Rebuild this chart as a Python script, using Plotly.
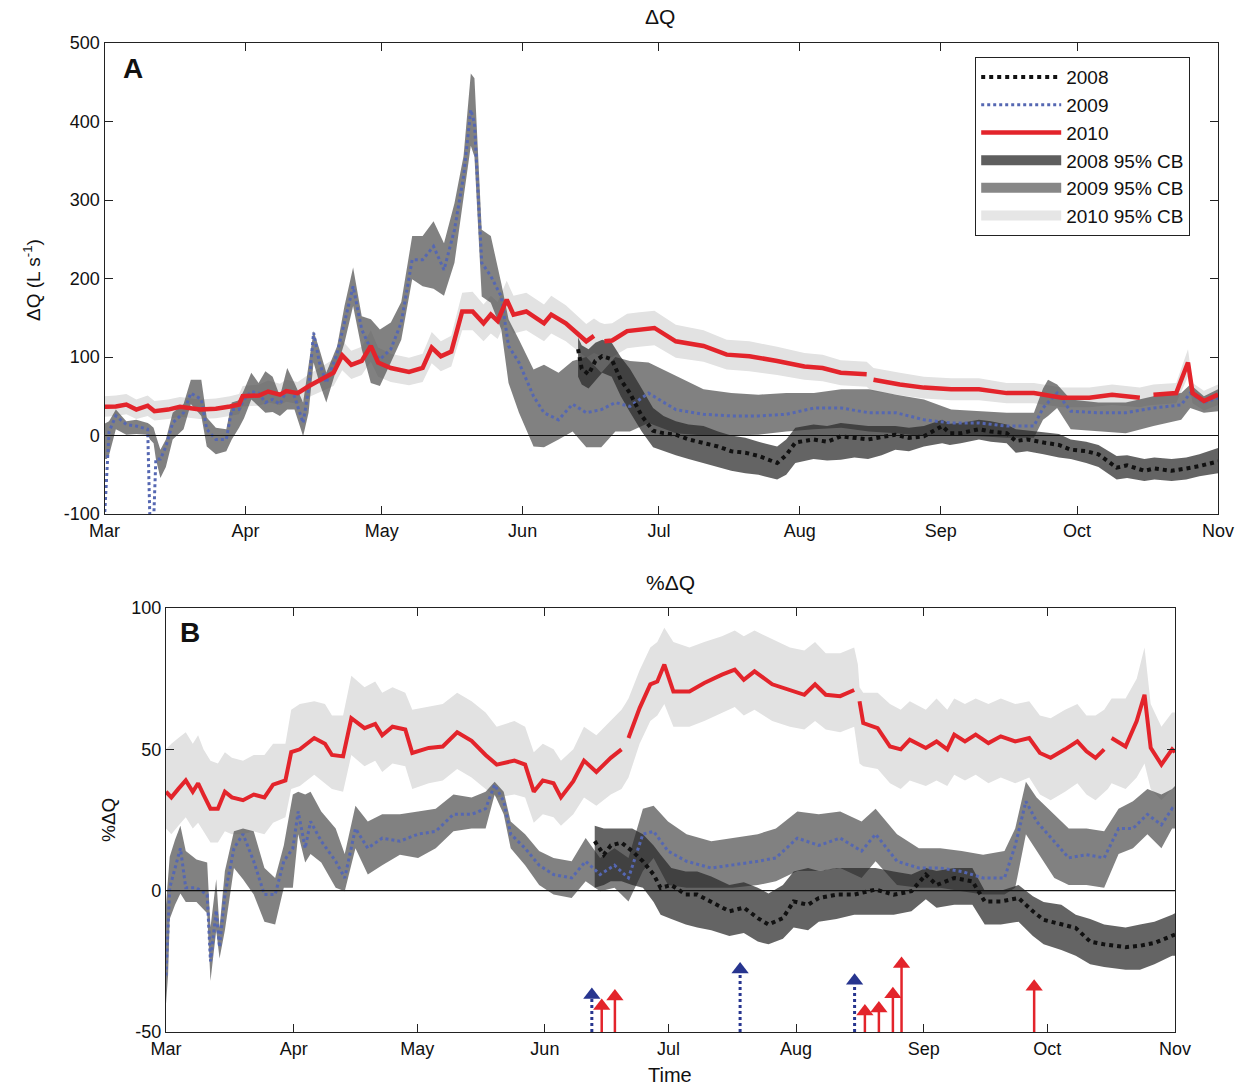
import plotly.graph_objects as go
import pandas as pd

BASE = pd.Timestamp("2010-03-01")

# ---------------- Panel A : dQ (L/s) ----------------
a10_day = [0, 2.5, 4.8, 7, 9.5, 11, 14, 16.6, 21, 24.5, 27.6, 29.6, 30.4, 34, 36, 38.6, 40, 42.5, 45, 48,
           50.4, 52.3, 54.3, 56.6, 58.6, 60.2, 63, 67, 70, 72, 74, 76.3, 78.7, 81, 83.4, 85, 86.5, 88.5, 90, 92.8,
           96.7, 98.3, 101.5, 106, 107.7, 109, 110, 111.7, 115, 117.7, 121, 125.7, 131.8, 136.9, 141.9, 148, 154, 158, 162, 167.7,
           168.5, 169.2, 175, 180.3, 186.3, 192.4, 198.5, 204.5, 210.6, 216.7, 221.7, 227.8, 229.3, 230.8, 235.8, 238.4, 239.4, 241.9, 245]
a10_mean = [36.5, 37, 39.5, 33, 38, 31, 33, 36.5, 33, 34, 37, 39.5, 50, 51, 56, 52, 56.5, 54, 63, 73,
            80, 102, 90, 95, 114, 93, 86, 81, 86, 112, 101, 107, 158, 158, 143, 154, 146, 173, 154, 158,
            143, 154, 143, 120, 127, None, 120, 121, 133, 135, 137, 120, 114, 103, 101, 95, 88, 86, 80, 78,
            None, 71, 65, 61, 59, 59, 54, 54, 48, 48, 52, 48, None, 52, 54, 93, 54, 44, 52]
a10_lo = [24, 25, 27, 21, 25, 19, 21, 24, 21, 22, 25, 27, 37, 38, 42, 39, 43, 40, 49, 57,
          63, 83, 72, 77, 94, 75, 68, 64, 68, 92, 82, 88, 134, 134, 120, 130, 123, 148, 130, 134,
          120, 130, 120, 99, 105, 102, 99, 100, 111, 113, 115, 99, 94, 84, 82, 77, 71, 69, 64, 62,
          58, 56, 51, 47, 45, 45, 41, 41, 36, 36, 39, 36, 38, 39, 41, 75, 41, 32, 39]
a10_hi = [50, 51, 53, 46, 51, 44, 46, 49, 46, 47, 50, 53, 63, 65, 70, 66, 71, 68, 78, 89,
          97, 121, 108, 113, 134, 112, 104, 99, 104, 132, 120, 127, 182, 183, 167, 178, 170, 197, 178, 182,
          167, 178, 166, 142, 149, 144, 142, 143, 155, 157, 159, 141, 134, 122, 120, 113, 105, 103, 96, 94,
          90, 86, 80, 75, 73, 73, 67, 67, 61, 61, 65, 61, 63, 65, 67, 110, 67, 57, 65]

a09_day = [0, 0.5, 1, 2.5, 4.8, 7, 9.5, 10, 10.8, 11.3, 12.3, 13.5, 15, 17.4, 19, 21.3, 22.5, 24.5, 26.8, 28,
           29.6, 30.7, 32.3, 33.9, 35.4, 37, 38.6, 40.2, 41.8, 43.7, 44.9, 46, 47.3, 48.8, 51.2, 52.8, 54.7, 56.6, 58.6, 60.6,
           63, 65.3, 67.7, 70, 72.4, 74.7, 77, 79, 80.6, 81.4, 83, 85, 87.3, 88.9, 91.2, 94.4, 96.7, 99.9, 103, 106,
           109.3, 112.4, 115.6, 119.7, 125.7, 131.8, 137.9, 143.9, 150, 156.1, 162.1, 168.2, 174.2, 180.3, 186.3, 192.4, 198.5, 204.5, 206.5, 207.6,
           209.6, 212.6, 218.7, 224.7, 230.8, 236.9, 238.9, 241.9, 245]
a09_mean = [-105, -40, 5, 25, 14, 12, 8, -110, -110, -30, -30, -14, 16, 29, 54, 46, 8, -5, -5, 33,
            33, 46, 56, 54, 42, 46, 40, 59, 50, 16, 59, 131, 93, 67, 105, 144, 190, 135, 110, 97,
            110, 144, 224, 224, 241, 211, 262, 330, 415, 398, 220, 203, 177, 114, 93, 50, 29, 20, 40, 29,
            33, 42, 37, 54, 33, 27, 25, 25, 27, 35, 35, 29, 29, 20, 16, 16, 12, 12, 35, 42,
            54, 31, 29, 29, 35, 39, 54, 42, 48]
a09_lo = [-30, -30, -25, 8, 1, 2, 1, -5, -10, -30, -54, -40, -5, 8, 40, 25, -14, -24, -20, -5,
          10, 22, 46, 37, 29, 30, 25, 33, 33, -1, 29, 93, 67, 42, 88, 118, 165, 110, 67, 63,
          93, 122, 199, 190, 187, 178, 220, 305, 369, 355, 177, 169, 135, 67, 29, -14, -15, -5, 5, -15,
          -15, 5, 5, 16, 3, 0, 0, 1, 5, 8, 10, 5, 3, -1, 1, -1, -3, -3, 20, 25,
          35, 8, 5, 3, 12, 20, 35, 29, 31]
a09_hi = [15, 16, 18, 33, 18, 20, 16, 14, 10, 0, -18, -5, 29, 40, 71, 71, 23, 10, 8, 42,
          45, 58, 80, 67, 82, 75, 50, 86, 67, 42, 93, 133, 110, 80, 114, 165, 214, 152, 148, 135,
          144, 170, 254, 254, 273, 245, 296, 356, 461, 455, 262, 254, 194, 148, 122, 84, 90, 80, 95, 100,
          80, 100, 95, 93, 76, 59, 54, 52, 54, 54, 59, 59, 52, 46, 33, 31, 29, 29, 60, 71,
          65, 46, 42, 42, 50, 54, 65, 50, 59]

a08_day = [104.2, 105, 106.5, 108, 109.5, 111.6, 113.6, 115.6, 118.2, 120.7, 123, 125.7, 128.5, 131.8, 135, 137.9, 141, 143.9, 148, 150,
           152, 156, 159, 162, 165, 168, 171, 174, 177, 180.3, 184.3, 186, 188.4, 192.4, 195, 198.5, 200.5, 203, 206.6, 210,
           212.6, 216, 218.7, 222.7, 225, 228.8, 231, 234.8, 238, 240.9, 245]
a08_mean = [110, 85, 78, 95, 101, 97, 71, 54, 25, 6, 3, 1, -5, -9, -14, -20, -22, -26, -35, -25,
            -9, -5, -8, -1, -3, -5, -2, 1, -3, -1, 12, 3, 3, 8, 5, 3, -7, -5, -9, -12,
            -18, -20, -24, -41, -38, -45, -42, -45, -42, -39, -33]
a08_lo = [75, 65, 60, 70, 80, 75, 50, 30, 5, -15, -20, -25, -30, -35, -40, -45, -48, -50, -56, -50,
          -35, -30, -32, -31, -28, -30, -25, -18, -20, -14, -10, -12, -10, -5, -8, -10, -22, -20, -24, -28,
          -30, -35, -40, -56, -54, -58, -56, -58, -56, -52, -48]
a08_hi = [125, 115, 110, 118, 122, 118, 100, 85, 60, 35, 25, 18, 14, 12, 5, 0, -3, -8, -14, -5,
          10, 14, 12, 16, 14, 12, 12, 12, 10, 12, 20, 15, 16, 20, 18, 14, 8, 6, 4, 2,
          -5, -8, -12, -26, -25, -30, -28, -30, -28, -24, -16]

# ---------------- Panel B : %dQ ----------------
b10_day = [0, 1.3, 3, 4.8, 6.5, 7.8, 9.1, 10.8, 12.6, 14.3, 16, 18.7, 21.3, 23.9, 26, 29, 30.4, 32.5, 36, 38.6,
           40.3, 43, 45, 48.2, 50.8, 52.5, 55, 58.1, 59.8, 63.8, 67.2, 70.7, 74.2, 77.6, 80.3, 84.6, 87.2, 89.3, 91.5, 94.1,
           95.9, 98.9, 101.5, 104.5, 108, 110.6, 111.5, 112.3, 115, 117.6, 119.3, 121, 123.2, 127.1, 130.7, 135, 138.1, 140.3, 142.9, 147.2,
           151.5, 155, 157.6, 160.2, 163.7, 167.1, 168, 168.4, 169.3, 172.8, 175.8, 178.4, 180.6, 184.5, 187.1, 189.7, 191.4, 194, 196.6, 199.7,
           202.7, 206.2, 209.6, 212.2, 214.8, 218.3, 221.3, 223.5, 225.7, 227.8, 228.7, 229.6, 233, 235.7, 237.6, 239.1, 241.7, 244.3, 245]
b10_mean = [35, 33, 36, 39, 35, 38, 34, 29, 29, 35, 33, 32, 34, 33, 37.5, 39, 49, 50, 54, 52,
            48, 47.5, 61, 57.5, 59, 55, 58, 57, 48.7, 50.5, 51, 56, 53, 48, 44.6, 46, 44.6, 35, 39, 38,
            33, 38.7, 46, 42, 47, 50, None, 54, 64.6, 73, 74, 80, 70.5, 70.5, 73.5, 76.4, 78.2, 74.6, 77.6, 73,
            71, 69.3, 73, 69.3, 68.8, 71, None, 67, 59.3, 57.5, 51, 50, 53.4, 50.5, 52.8, 50, 55.2, 52.8, 55.2, 52.2,
            54.6, 52.8, 54, 48.7, 47, 50, 52.8, 49.3, 47, 50, None, 54, 51, 60, 69.3, 50.5, 44.6, 50, 49]
b10_lo = [22, 20, 23, 26, 22, 24, 21, 17, 17, 21, 20, 20, 21, 20, 24, 26, 36, 37, 41, 38,
          36, 35, 48, 44, 46, 42, 45, 44, 36, 38, 39, 43, 40, 36, 33, 34, 33, 24, 27, 26,
          23, 27, 33, 30, 34, 36, 38, 40, 52, 60, 62, 66, 58, 58, 60, 63, 65, 62, 64, 60,
          58, 57, 60, 57, 56, 58, 50, 45, 44, 43, 38, 36, 39, 37, 39, 37, 41, 39, 41, 38,
          40, 38, 40, 34, 32, 35, 38, 34, 32, 35, 36, 38, 36, 40, 45, 36, 32, 36, 36]
b10_hi = [50, 52, 54, 56, 52, 55, 50, 46, 45, 49, 47, 46, 48, 48, 52, 52, 64, 66, 67, 66,
          62, 62, 76, 72, 74, 70, 72, 70, 64, 65, 66, 70, 67, 63, 58, 60, 58, 49, 52, 50,
          46, 50, 58, 55, 60, 64, 66, 68, 78, 86, 88, 93, 88, 86, 88, 90, 92, 90, 92, 89,
          86, 85, 88, 84, 84, 86, 80, 72, 70, 70, 66, 64, 67, 64, 68, 64, 68, 66, 68, 66,
          68, 66, 67, 62, 61, 64, 66, 62, 62, 64, 66, 68, 68, 75, 86, 66, 58, 63, 63]

b09_day = [0, 0.5, 0.9, 2.2, 3.5, 4.8, 7.4, 10, 10.8, 12.2, 13, 14.3, 16.5, 18.7, 21.3, 23.9, 26.5, 28.6, 30.8, 32.1,
           33.8, 35.1, 37.7, 41.2, 43.4, 46, 49, 52.5, 56.8, 61.2, 65.5, 69.8, 74.2, 77.6, 79.8, 82, 83.7, 87.2, 90.6, 94.1,
           98.5, 101.9, 105.4, 108.9, 112.3, 115.8, 118.4, 121.9, 126.4, 132.4, 137.6, 143.7, 148.1, 153.3, 158.5, 163.7, 168.9, 172.3, 177.5, 182.8,
           188, 193.2, 198.4, 203.6, 206.2, 208.8, 211.4, 215.7, 219.2, 223.5, 227.8, 231.3, 234.8, 238.3, 241.7, 244.3, 245]
b09_mean = [-30, -10, 1, 8, 15, 1, 1, -1.4, -25, -7, -20, -1.4, 15, 20, 10.4, -1.4, -1.4, 10.4, 15, 28,
            15, 24.5, 17.5, 10.4, 4.5, 22, 15, 18.6, 17.5, 20, 21, 27, 27, 29, 37.5, 31.6, 20, 15, 9, 5.7,
            4.5, 10.4, 5.7, 9, 4.5, 20, 21, 14, 10.4, 8, 9, 10.4, 11.6, 18.6, 16, 18.6, 14, 20, 10.4, 8,
            8, 6.8, 4.5, 4.5, 16, 31.6, 24.5, 17.5, 11.6, 12.7, 11.6, 22, 22, 27, 23.3, 29, 28]
b09_lo = [-40, -30, -10, -5, -1, -4, -4, -8, -32, -14, -24, -14, 8, 4, -1.4, -11, -12, 1, 1, 20,
          10, 13, 10, 1, -0.2, 15, 5.7, 9, 12.7, 11.6, 15, 21, 22, 22, 34, 27, 15, 9, 2, -1.4,
          -2.6, 3.3, -0.2, 1, -3.8, 7, 11.6, 2, 1, 1, 1, 2, 3.3, 7, 7, 8, 4.5, 10.4, 2, 1,
          1, -0.2, -1.4, -1.4, 1, 20, 14, 4.5, 2, 2, 1, 13, 15, 20, 15, 22, 22]
b09_hi = [-5, 5, 12, 18, 23, 14, 11, 10, -13, 4, -13, 7, 21, 22, 21, 8, 4.5, 16, 34, 35,
          34, 35, 28, 22, 13, 30, 24.5, 27, 27, 28, 29, 34, 33, 35, 38.5, 35, 24.5, 20, 14, 11.6,
          10.4, 18.6, 11.6, 15, 11.6, 29, 30, 24.5, 20, 17.5, 18.6, 20, 22, 28, 27, 28, 24.5, 29, 20, 15,
          15, 14, 12.7, 14, 22, 38.5, 33, 27, 22, 22, 21, 29, 31.6, 36, 34, 36, 37]

b08_day = [104.1, 106.3, 108, 110.6, 113.2, 115.8, 118.4, 120.1, 122.7, 126.2, 129, 132.4, 136.8, 140.3, 143.7, 146.3, 149.8, 152.4, 155.9, 158.5,
           162.8, 167.1, 172.3, 176.7, 181, 184.5, 187.1, 191.4, 195.8, 198.8, 202.7, 207, 210.5, 213.1, 217.4, 220.9, 224.4, 227.8, 233, 236.5,
           240, 244.3, 245]
b08_mean = [17.5, 12.7, 16, 17, 14, 10.4, 5.7, 1, 2, -1.4, -1.4, -3.8, -7.3, -6, -9.7, -12, -9.7, -3.8, -5, -2.6,
            -1.4, -1.4, 0.4, -1.4, -0.2, 5.7, 2, 4.5, 3.3, -3.8, -3.8, -2.6, -7.3, -10.3, -12, -13.2, -18, -19, -20, -19.5,
            -18.5, -16, -15.5]
b08_lo = [1, 2, 3.3, 3.3, 2, 1, -4, -8.5, -10, -12, -13, -14, -16, -15, -18, -19, -17, -13, -14, -11,
          -10, -8.5, -8.5, -8.5, -7.3, -3, -6, -5, -5, -12, -12, -11, -16, -19, -21, -23, -26, -27, -28, -28,
          -26, -23, -23]
b08_hi = [23, 22, 22, 22, 22, 20, 16, 12.7, 8, 6.8, 6.8, 5, 2, 3, 1, -1, 2, 6.8, 8, 7,
          8, 8, 8, 6.8, 5.7, 8, 7, 8, 8, 0, 0, 2, -2, -4, -5, -8.5, -10, -12, -13, -12,
          -11, -8.5, -8]

# arrows (panel B): date position (days after 1 Mar) and tip value (%)
blue_arrow_day = [103.4, 139.4, 167.2]
blue_arrow_tip = [-34.4, -25.4, -29.4]
red_arrow_day = [105.8, 109.0, 169.7, 173.1, 176.5, 178.6, 210.8]
red_arrow_tip = [-38.3, -35.0, -40.3, -39.2, -34.2, -23.5, -31.5]

month_ticks = ["Mar", "Apr", "May", "Jun", "Jul", "Aug", "Sep", "Oct", "Nov"]
a_yticks = [-100, 0, 100, 200, 300, 400, 500]
b_yticks = [-50, 0, 50, 100]


def to_dates(days):
    return [BASE + pd.Timedelta(days=float(d)) for d in days]


W, H = 1253, 1087
FONT = "Liberation Sans, Arial, sans-serif"
RED = "#e3242b"
BLUE = "#5567b2"
NAVY = "#27358f"
C08 = "rgba(40,40,40,0.72)"
C09 = "rgba(80,80,80,0.72)"
C10 = "rgba(226,226,226,1)"
L08 = "#5e5e5e"
L09 = "#878787"
L10 = "#e6e6e6"

fig = go.Figure()


def band(days, lo, hi, color, xa, ya):
    x = to_dates(days)
    fig.add_trace(go.Scatter(x=x, y=lo, mode="lines", line=dict(width=0, color=color),
                             xaxis=xa, yaxis=ya, showlegend=False, hoverinfo="skip"))
    fig.add_trace(go.Scatter(x=x, y=hi, mode="lines", line=dict(width=0, color=color),
                             fill="tonexty", fillcolor=color,
                             xaxis=xa, yaxis=ya, showlegend=False, hoverinfo="skip"))


def line(days, vals, color, width, dash, name, xa, ya, show, rank):
    fig.add_trace(go.Scatter(x=to_dates(days), y=vals, mode="lines",
                             line=dict(color=color, width=width, dash=dash),
                             name=name, legendrank=rank, xaxis=xa, yaxis=ya,
                             showlegend=show, connectgaps=False))


def legend_swatch(color, name, rank):
    fig.add_trace(go.Scatter(x=[None], y=[None], mode="lines", line=dict(color=color, width=16),
                             name=name, legendrank=rank, xaxis="x", yaxis="y", showlegend=True))


# Panel A
band(a10_day, a10_lo, a10_hi, C10, "x", "y")
band(a09_day, a09_lo, a09_hi, C09, "x", "y")
band(a08_day, a08_lo, a08_hi, C08, "x", "y")
line(a09_day, a09_mean, BLUE, 3, "dot", "2009", "x", "y", True, 2)
line(a08_day, a08_mean, "#111111", 4, "dot", "2008", "x", "y", True, 1)
line(a10_day, a10_mean, RED, 4.5, "solid", "2010", "x", "y", True, 3)
legend_swatch(L08, "2008 95% CB", 4)
legend_swatch(L09, "2009 95% CB", 5)
legend_swatch(L10, "2010 95% CB", 6)

# Panel B
band(b10_day, b10_lo, b10_hi, C10, "x2", "y2")
band(b09_day, b09_lo, b09_hi, C09, "x2", "y2")
band(b08_day, b08_lo, b08_hi, C08, "x2", "y2")
line(b09_day, b09_mean, BLUE, 3, "dot", "2009", "x2", "y2", False, 2)
line(b08_day, b08_mean, "#111111", 4, "dot", "2008", "x2", "y2", False, 1)
line(b10_day, b10_mean, RED, 4, "solid", "2010", "x2", "y2", False, 3)

# arrows in panel B
B_RANGE = (-50, 100)
B_PX = 424.0  # plot height in px
HEAD_OFF = 7 * (B_RANGE[1] - B_RANGE[0]) / B_PX   # triangle tip sits 7px above its centre
for d, t in zip(blue_arrow_day, blue_arrow_tip):
    fig.add_trace(go.Scatter(x=to_dates([d, d]), y=[B_RANGE[0], t - HEAD_OFF], mode="lines",
                             line=dict(color=NAVY, width=3, dash="dot"), xaxis="x2", yaxis="y2",
                             showlegend=False, hoverinfo="skip"))
for d, t in zip(red_arrow_day, red_arrow_tip):
    fig.add_trace(go.Scatter(x=to_dates([d, d]), y=[B_RANGE[0], t - HEAD_OFF], mode="lines",
                             line=dict(color=RED, width=2.5), xaxis="x2", yaxis="y2",
                             showlegend=False, hoverinfo="skip"))
fig.add_trace(go.Scatter(x=to_dates(blue_arrow_day), y=[t - HEAD_OFF for t in blue_arrow_tip], mode="markers",
                         marker=dict(symbol="triangle-up", size=15, color=NAVY, line=dict(width=0)),
                         xaxis="x2", yaxis="y2", showlegend=False, hoverinfo="skip"))
fig.add_trace(go.Scatter(x=to_dates(red_arrow_day), y=[t - HEAD_OFF for t in red_arrow_tip], mode="markers",
                         marker=dict(symbol="triangle-up", size=15, color=RED, line=dict(width=0)),
                         xaxis="x2", yaxis="y2", showlegend=False, hoverinfo="skip"))

xr = [BASE, BASE + pd.Timedelta(days=245)]
tickvals = [pd.Timestamp(f"2010-{m:02d}-01") for m in range(3, 12)]

common_x = dict(range=xr, tickvals=tickvals, ticktext=month_ticks, ticks="inside", ticklen=8,
                tickcolor="#222", showline=True, linecolor="#222", linewidth=1.2, mirror="ticks",
                showgrid=False, zeroline=False, automargin=False,
                tickfont=dict(family=FONT, size=18, color="#111"))
common_y = dict(ticks="inside", ticklen=8, tickcolor="#222", showline=True, linecolor="#222",
                linewidth=1.2, mirror="ticks", showgrid=False, zeroline=False, automargin=False,
                tickfont=dict(family=FONT, size=18, color="#111"))


def ann(text, x, y, size, angle=0):
    return dict(text=text, x=x / W, y=1 - y / H, xref="paper", yref="paper", showarrow=False,
                xanchor="center", yanchor="middle", textangle=angle,
                font=dict(family=FONT, size=size, color="#111"))


fig.update_layout(
    template="none",
    width=W, height=H, margin=dict(l=0, r=0, t=0, b=0, pad=0), autosize=False,
    paper_bgcolor="white", plot_bgcolor="white",
    font=dict(family=FONT, size=18, color="#111"),
    xaxis=dict(domain=[104.5 / W, 1218 / W], anchor="y", **common_x),
    yaxis=dict(domain=[1 - 514 / H, 1 - 43 / H], anchor="x", range=[-100, 500],
               tickvals=a_yticks, ticktext=[str(v) for v in a_yticks], **common_y),
    xaxis2=dict(domain=[166 / W, 1175 / W], anchor="y2", **common_x),
    yaxis2=dict(domain=[1 - 1032 / H, 1 - 608 / H], anchor="x2", range=list(B_RANGE),
                tickvals=b_yticks, ticktext=[str(v) for v in b_yticks], **common_y),
    legend=dict(x=975 / W, y=1 - 57 / H, xanchor="left", yanchor="top",
                bordercolor="#222", borderwidth=1.2, bgcolor="white",
                font=dict(family=FONT, size=19, color="#111"), itemwidth=80,
                tracegroupgap=0, traceorder="normal"),
    shapes=[
        dict(type="line", xref="x domain", yref="y", x0=0, x1=1, y0=0, y1=0,
             line=dict(color="#111", width=1.2), layer="above"),
        dict(type="line", xref="x2 domain", yref="y2", x0=0, x1=1, y0=0, y1=0,
             line=dict(color="#111", width=1.2), layer="above"),
    ],
    annotations=[
        ann("ΔQ", 660, 17, 21),
        ann("%ΔQ", 670, 582, 21),
        ann("<b>A</b>", 133, 69, 28),
        ann("<b>B</b>", 190, 632, 28),
        ann("ΔQ (L s<sup>-1</sup>)", 32, 280, 19, -90),
        ann("%ΔQ", 108, 820, 19, -90),
        ann("Time", 670, 1075, 20),
    ],
)

fig.write_html("out.html", config={"displayModeBar": False},
               post_script="document.body.style.margin='0';document.body.style.overflow='hidden';")
